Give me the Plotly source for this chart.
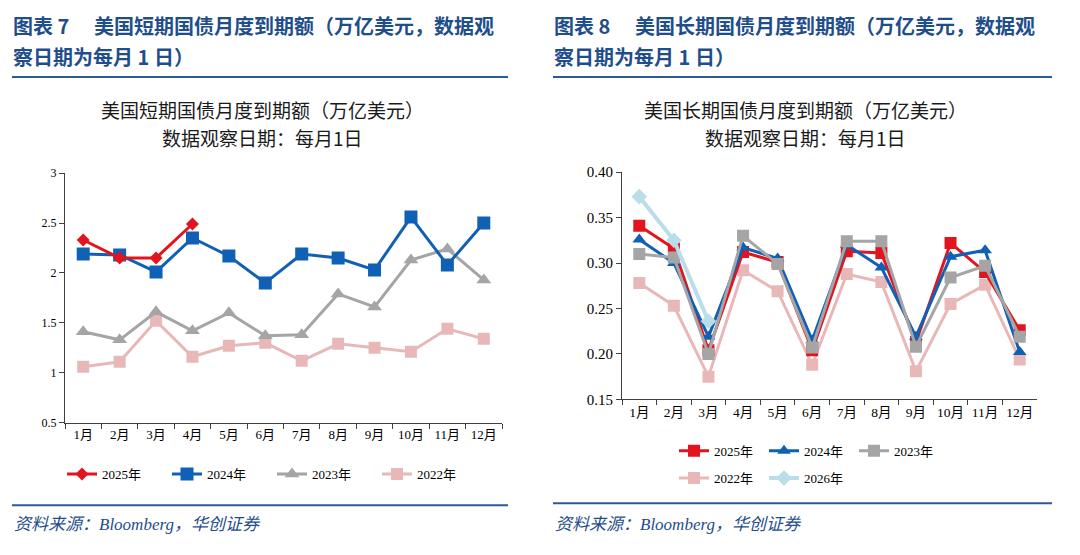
import plotly.graph_objects as go

W, H = 1080, 555

months = ["1月", "2月", "3月", "4月", "5月", "6月", "7月", "8月", "9月", "10月", "11月", "12月"]

# Left chart: short-term Treasury maturities (trillion USD)
short_2025 = [2.33, 2.15, 2.15, 2.49]
short_2024 = [2.19, 2.18, 2.01, 2.35, 2.17, 1.90, 2.19, 2.15, 2.03, 2.56, 2.08, 2.50]
short_2023 = [1.41, 1.33, 1.61, 1.42, 1.60, 1.37, 1.38, 1.79, 1.66, 2.13, 2.24, 1.93]
short_2022 = [1.06, 1.11, 1.52, 1.16, 1.27, 1.30, 1.12, 1.29, 1.25, 1.21, 1.44, 1.34]

# Right chart: long-term Treasury maturities (trillion USD)
long_2025 = [0.341, 0.316, 0.204, 0.312, 0.301, 0.204, 0.313, 0.311, 0.213, 0.322, 0.290, 0.226]
long_2024 = [0.326, 0.300, 0.219, 0.317, 0.305, 0.215, 0.320, 0.295, 0.219, 0.307, 0.314, 0.202]
long_2023 = [0.310, 0.306, 0.200, 0.330, 0.299, 0.207, 0.324, 0.324, 0.208, 0.284, 0.297, 0.219]
long_2022 = [0.278, 0.253, 0.175, 0.292, 0.269, 0.188, 0.288, 0.279, 0.181, 0.255, 0.276, 0.194]
long_2026 = [0.373, 0.325, 0.236]

RED = "#e3141d"
BLUE = "#1061b5"
GREY = "#a5a5a5"
PINK = "#e8b8b8"
LBLUE = "#b9dde9"
HEAD = "#1f4e8c"

SERIF = "Liberation Serif, Times New Roman, Noto Sans CJK SC, serif"
CJK = "Noto Sans CJK SC, sans-serif"

fig = go.Figure()

def px_x(v):
    return v / W

def px_y(v):
    return 1 - v / H

# ---- left chart traces (draw order: back to front) ----
fig.add_trace(go.Scatter(x=months, y=short_2022, name="2022年", mode="lines+markers",
                         line=dict(color=PINK, width=3), marker=dict(symbol="square", size=12, color=PINK),
                         xaxis="x", yaxis="y", legend="legend", legendrank=4))
fig.add_trace(go.Scatter(x=months, y=short_2023, name="2023年", mode="lines+markers",
                         line=dict(color=GREY, width=3), marker=dict(symbol="triangle-up", size=13, color=GREY),
                         xaxis="x", yaxis="y", legend="legend", legendrank=3))
fig.add_trace(go.Scatter(x=months, y=short_2024, name="2024年", mode="lines+markers",
                         line=dict(color=BLUE, width=3), marker=dict(symbol="square", size=13, color=BLUE),
                         xaxis="x", yaxis="y", legend="legend", legendrank=2))
fig.add_trace(go.Scatter(x=months[:len(short_2025)], y=short_2025, name="2025年", mode="lines+markers",
                         line=dict(color=RED, width=3), marker=dict(symbol="diamond", size=10, color=RED),
                         xaxis="x", yaxis="y", legend="legend", legendrank=1))

# ---- right chart traces ----
fig.add_trace(go.Scatter(x=months, y=long_2022, name="2022年", mode="lines+markers",
                         line=dict(color=PINK, width=3), marker=dict(symbol="square", size=12, color=PINK),
                         xaxis="x2", yaxis="y2", legend="legend3", legendrank=1))
fig.add_trace(go.Scatter(x=months, y=long_2025, name="2025年", mode="lines+markers",
                         line=dict(color=RED, width=3), marker=dict(symbol="square", size=12, color=RED),
                         xaxis="x2", yaxis="y2", legend="legend2", legendrank=1))
fig.add_trace(go.Scatter(x=months, y=long_2024, name="2024年", mode="lines+markers",
                         line=dict(color=BLUE, width=3), marker=dict(symbol="triangle-up", size=12, color=BLUE),
                         xaxis="x2", yaxis="y2", legend="legend2", legendrank=2))
fig.add_trace(go.Scatter(x=months, y=long_2023, name="2023年", mode="lines+markers",
                         line=dict(color=GREY, width=3), marker=dict(symbol="square", size=12, color=GREY),
                         xaxis="x2", yaxis="y2", legend="legend2", legendrank=3))
fig.add_trace(go.Scatter(x=months[:len(long_2026)], y=long_2026, name="2026年", mode="lines+markers",
                         line=dict(color=LBLUE, width=4), marker=dict(symbol="diamond", size=12, color=LBLUE),
                         xaxis="x2", yaxis="y2", legend="legend3", legendrank=2))

def axis_style(fsize):
    return dict(showline=True, linecolor="#404040", linewidth=1, ticks="outside",
                ticklen=5, tickcolor="#404040", showgrid=False, zeroline=False,
                tickfont=dict(family=SERIF, size=fsize, color="#000000"), fixedrange=True)

leg_font = dict(family=SERIF, size=13, color="#000")

fig.update_layout(
    width=W, height=H,
    margin=dict(l=0, r=0, t=0, b=0),
    paper_bgcolor="white", plot_bgcolor="white",
    xaxis=dict(domain=[px_x(65), px_x(502)], anchor="y", type="category",
               categoryorder="array", categoryarray=months, range=[-0.5, 11.5],
               tickson="boundaries", tickangle=0, **axis_style(13)),
    yaxis=dict(domain=[px_y(427), px_y(170)], anchor="x", range=[0.5, 3], dtick=0.5,
               tick0=0.5, **axis_style(12)),
    xaxis2=dict(domain=[px_x(622), px_x(1037)], anchor="y2", type="category",
                categoryorder="array", categoryarray=months, range=[-0.5, 11.5],
                tickson="boundaries", tickangle=0, **axis_style(13.5)),
    yaxis2=dict(domain=[px_y(403), px_y(169)], anchor="x2", range=[0.15, 0.40], dtick=0.05,
                tick0=0.15, tickformat=".2f", **axis_style(15)),
    legend=dict(orientation="h", x=px_x(272), xanchor="center", y=px_y(480), yanchor="middle",
                font=leg_font, bgcolor="rgba(0,0,0,0)",
                itemclick=False, itemdoubleclick=False, entrywidth=60),
    legend2=dict(orientation="h", x=px_x(674), xanchor="left", y=px_y(456), yanchor="middle",
                 font=leg_font, bgcolor="rgba(0,0,0,0)",
                 itemclick=False, itemdoubleclick=False, entrywidth=45),
    legend3=dict(orientation="h", x=px_x(674), xanchor="left", y=px_y(484), yanchor="middle",
                 font=leg_font, bgcolor="rgba(0,0,0,0)",
                 itemclick=False, itemdoubleclick=False, entrywidth=45),
    showlegend=True,
)

annotations = []
def text(x, y, s, size, color, family, xanchor="left", bold=False, italic=False):
    if bold:
        s = "<b>" + s + "</b>"
    if italic:
        s = "<i>" + s + "</i>"
    annotations.append(dict(x=px_x(x), y=px_y(y), xref="paper", yref="paper", text=s,
                            showarrow=False, xanchor=xanchor, yanchor="middle",
                            font=dict(size=size, color=color, family=family)))

# headers
text(11, 18, "图表 7 　美国短期国债月度到期额（万亿美元，数据观", 20, HEAD, CJK, bold=True)
text(11, 50, "察日期为每月 1 日）", 20, HEAD, CJK, bold=True)
text(552, 18, "图表 8 　美国长期国债月度到期额（万亿美元，数据观", 20, HEAD, CJK, bold=True)
text(552, 50, "察日期为每月 1 日）", 20, HEAD, CJK, bold=True)

# chart titles
text(262, 105, "美国短期国债月度到期额（万亿美元）", 19, "#1a1a1a", CJK, xanchor="center")
text(262, 133, "数据观察日期：每月1日", 19, "#1a1a1a", CJK, xanchor="center")
text(805, 105, "美国长期国债月度到期额（万亿美元）", 19, "#1a1a1a", CJK, xanchor="center")
text(805, 133, "数据观察日期：每月1日", 19, "#1a1a1a", CJK, xanchor="center")

# sources
text(12, 532, "资料来源：Bloomberg，华创证券", 17, HEAD, "Liberation Serif, Noto Sans CJK SC", italic=True)
text(553, 532, "资料来源：Bloomberg，华创证券", 17, HEAD, "Liberation Serif, Noto Sans CJK SC", italic=True)

fig.update_layout(annotations=annotations)

shapes = []
for (x0, x1, y) in [(12, 508, 71), (553, 1052, 71), (12, 508, 512), (553, 1052, 510)]:
    shapes.append(dict(type="line", xref="paper", yref="paper", x0=px_x(x0), x1=px_x(x1),
                       y0=px_y(y), y1=px_y(y), line=dict(color="#2e5a94", width=2)))
fig.update_layout(shapes=shapes)

fig.write_html("out.html")
